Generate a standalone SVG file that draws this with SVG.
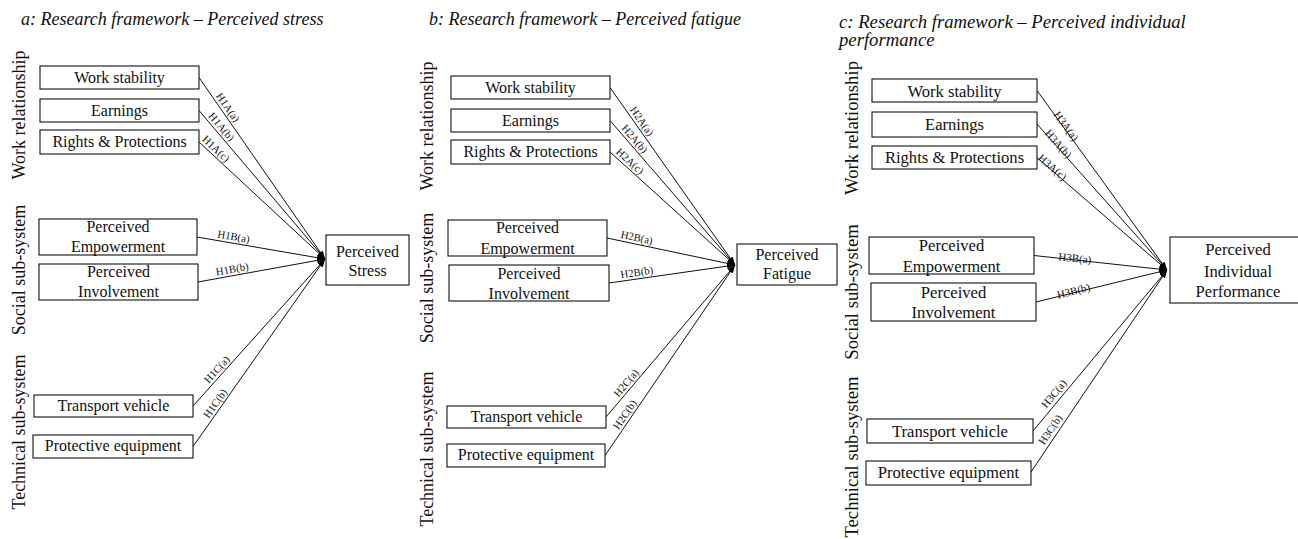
<svg xmlns="http://www.w3.org/2000/svg" width="1298" height="539" viewBox="0 0 1298 539">
<style>
text{font-family:"Liberation Serif","Times New Roman",serif;fill:#111}
.title{font-size:18px;font-style:italic}
.titlec{font-size:18.7px;font-style:italic}
.grp{font-size:18px;text-anchor:middle}
.grpc{font-size:18.7px;text-anchor:middle}
.box{fill:#fff;stroke:#111;stroke-width:1.1}
.nt{font-size:16px;text-anchor:middle}
.ntc{font-size:16.6px;text-anchor:middle}
.edge{fill:none;stroke:#111;stroke-width:1;marker-end:url(#arr)}
.el{font-size:10.8px}
.elc{font-size:11px}
</style>
<defs>
<marker id="arr" markerUnits="userSpaceOnUse" markerWidth="8" markerHeight="6" refX="8" refY="3" orient="auto">
<path d="M0,0 L8,3 L0,6 z" fill="#000"/>
</marker>
</defs>

<!-- Titles -->
<text class="title" x="21" y="25">a: Research framework – Perceived stress</text>
<text class="title" x="429" y="25">b: Research framework – Perceived fatigue</text>
<text class="titlec" x="839" y="28">c: Research framework – Perceived individual</text>
<text class="titlec" x="839" y="46">performance</text>

<!-- Group labels -->
<text class="grp" transform="translate(25,115) rotate(-90)">Work relationship</text>
<text class="grp" transform="translate(25,270) rotate(-90)">Social sub-system</text>
<text class="grp" transform="translate(25,432) rotate(-90)">Technical sub-system</text>
<text class="grp" transform="translate(433,126) rotate(-90)">Work relationship</text>
<text class="grp" transform="translate(433,278) rotate(-90)">Social sub-system</text>
<text class="grp" transform="translate(433,449) rotate(-90)">Technical sub-system</text>
<text class="grpc" transform="translate(858,128) rotate(-90)">Work relationship</text>
<text class="grpc" transform="translate(858,292) rotate(-90)">Social sub-system</text>
<text class="grpc" transform="translate(858,457) rotate(-90)">Technical sub-system</text>

<!-- Connectors -->
<g id="connectors">
<path id="ea1" class="edge" d="M199,77.5 L325,259"/>
<path id="ea2" class="edge" d="M199,110.5 L325,259"/>
<path id="ea3" class="edge" d="M199,142 L325,259"/>
<path id="ea4" class="edge" d="M197,237 L325,259"/>
<path id="ea5" class="edge" d="M198,282 L325,259"/>
<path id="ea6" class="edge" d="M193,406 L325,259"/>
<path id="ea7" class="edge" d="M193,446.5 L325,259"/>
<path id="eb1" class="edge" d="M610,87.5 L735,265"/>
<path id="eb2" class="edge" d="M610,120.5 L735,265"/>
<path id="eb3" class="edge" d="M610,152 L735,265"/>
<path id="eb4" class="edge" d="M607,238 L735,265"/>
<path id="eb5" class="edge" d="M609,283 L735,265"/>
<path id="eb6" class="edge" d="M606,417 L735,265"/>
<path id="eb7" class="edge" d="M605,455.5 L735,265"/>
<path id="ec1" class="edge" d="M1037,90.5 L1167,270"/>
<path id="ec2" class="edge" d="M1037,124 L1167,270"/>
<path id="ec3" class="edge" d="M1037,157.5 L1167,270"/>
<path id="ec4" class="edge" d="M1034,255.5 L1167,270"/>
<path id="ec5" class="edge" d="M1036,302 L1167,270"/>
<path id="ec6" class="edge" d="M1033,431 L1167,270"/>
<path id="ec7" class="edge" d="M1031,472 L1167,270"/>

<text class="el" dy="-3"><textPath href="#ea1" startOffset="41" text-anchor="middle">H1A(a)</textPath></text>
<text class="el" dy="-3"><textPath href="#ea2" startOffset="27" text-anchor="middle">H1A(b)</textPath></text>
<text class="el" dy="-3"><textPath href="#ea3" startOffset="17" text-anchor="middle">H1A(c)</textPath></text>
<text class="el" dy="-3"><textPath href="#ea4" startOffset="36" text-anchor="middle">H1B(a)</textPath></text>
<text class="el" dy="-3"><textPath href="#ea5" startOffset="36" text-anchor="middle">H1B(b)</textPath></text>
<text class="el" dy="-3"><textPath href="#ea6" startOffset="43" text-anchor="middle">H1C(a)</textPath></text>
<text class="el" dy="-3"><textPath href="#ea7" startOffset="48" text-anchor="middle">H1C(b)</textPath></text>

<text class="el" dy="-3"><textPath href="#eb1" startOffset="46" text-anchor="middle">H2A(a)</textPath></text>
<text class="el" dy="-3"><textPath href="#eb2" startOffset="30" text-anchor="middle">H2A(b)</textPath></text>
<text class="el" dy="-3"><textPath href="#eb3" startOffset="21" text-anchor="middle">H2A(c)</textPath></text>
<text class="el" dy="-3"><textPath href="#eb4" startOffset="29" text-anchor="middle">H2B(a)</textPath></text>
<text class="el" dy="-3"><textPath href="#eb5" startOffset="29" text-anchor="middle">H2B(b)</textPath></text>
<text class="el" dy="-3"><textPath href="#eb6" startOffset="39" text-anchor="middle">H2C(a)</textPath></text>
<text class="el" dy="-3"><textPath href="#eb7" startOffset="45" text-anchor="middle">H2C(b)</textPath></text>

<text class="elc" dy="1"><textPath href="#ec1" startOffset="46" text-anchor="middle">H3A(a)</textPath></text>
<text class="elc" dy="1"><textPath href="#ec2" startOffset="29" text-anchor="middle">H3A(b)</textPath></text>
<text class="elc" dy="1"><textPath href="#ec3" startOffset="18" text-anchor="middle">H3A(c)</textPath></text>
<text class="elc" dy="2"><textPath href="#ec4" startOffset="41" text-anchor="middle">H3B(a)</textPath></text>
<text class="elc" dy="2"><textPath href="#ec5" startOffset="39" text-anchor="middle">H3B(b)</textPath></text>
<text class="elc" dy="-4"><textPath href="#ec6" startOffset="42" text-anchor="middle">H3C(a)</textPath></text>
<text class="elc" dy="-4"><textPath href="#ec7" startOffset="46" text-anchor="middle">H3C(b)</textPath></text>
</g>

<!-- Panel a nodes -->
<g id="a-work-stability"><rect class="box" x="40" y="66" width="159" height="23"/><text class="nt" x="119.5" y="83">Work stability</text></g>
<g id="a-earnings"><rect class="box" x="40" y="99" width="159" height="23"/><text class="nt" x="119.5" y="116">Earnings</text></g>
<g id="a-rights"><rect class="box" x="40" y="130" width="159" height="24"/><text class="nt" x="119.5" y="147">Rights &amp; Protections</text></g>
<g id="a-empowerment"><rect class="box" x="39" y="219" width="158" height="36"/><text class="nt" x="118" y="231.7">Perceived</text><text class="nt" x="118" y="252">Empowerment</text></g>
<g id="a-involvement"><rect class="box" x="39" y="264" width="159" height="36"/><text class="nt" x="118.5" y="276.7">Perceived</text><text class="nt" x="118.5" y="297">Involvement</text></g>
<g id="a-transport"><rect class="box" x="34" y="395" width="159" height="22"/><text class="nt" x="113.5" y="411">Transport vehicle</text></g>
<g id="a-protective"><rect class="box" x="33" y="435" width="160" height="23"/><text class="nt" x="113" y="451">Protective equipment</text></g>
<g id="a-stress"><rect class="box" x="326" y="235" width="83" height="50"/><text class="nt" x="367.5" y="257">Perceived</text><text class="nt" x="367.5" y="276">Stress</text></g>

<!-- Panel b nodes -->
<g id="b-work-stability"><rect class="box" x="451" y="76" width="159" height="23"/><text class="nt" x="530.5" y="93">Work stability</text></g>
<g id="b-earnings"><rect class="box" x="451" y="109" width="159" height="23"/><text class="nt" x="530.5" y="125.5">Earnings</text></g>
<g id="b-rights"><rect class="box" x="451" y="140" width="159" height="24"/><text class="nt" x="530.5" y="157">Rights &amp; Protections</text></g>
<g id="b-empowerment"><rect class="box" x="448" y="220" width="159" height="36"/><text class="nt" x="527.5" y="233.3">Perceived</text><text class="nt" x="527.5" y="254">Empowerment</text></g>
<g id="b-involvement"><rect class="box" x="449" y="265" width="160" height="36"/><text class="nt" x="529" y="279">Perceived</text><text class="nt" x="529" y="299.3">Involvement</text></g>
<g id="b-transport"><rect class="box" x="447" y="406" width="159" height="22"/><text class="nt" x="526.5" y="421.7">Transport vehicle</text></g>
<g id="b-protective"><rect class="box" x="447" y="444" width="158" height="23"/><text class="nt" x="526" y="460">Protective equipment</text></g>
<g id="b-fatigue"><rect class="box" x="737" y="244" width="100" height="41"/><text class="nt" x="787" y="260">Perceived</text><text class="nt" x="787" y="279">Fatigue</text></g>

<!-- Panel c nodes -->
<g id="c-work-stability"><rect class="box" x="872" y="79" width="165" height="23"/><text class="ntc" x="954.5" y="96.7">Work stability</text></g>
<g id="c-earnings"><rect class="box" x="872" y="112" width="165" height="25"/><text class="ntc" x="954.5" y="130">Earnings</text></g>
<g id="c-rights"><rect class="box" x="872" y="146" width="165" height="23"/><text class="ntc" x="954.5" y="163.3">Rights &amp; Protections</text></g>
<g id="c-empowerment"><rect class="box" x="869" y="237" width="165" height="37"/><text class="ntc" x="951.5" y="250.7">Perceived</text><text class="ntc" x="951.5" y="271.7">Empowerment</text></g>
<g id="c-involvement"><rect class="box" x="871" y="283" width="165" height="38"/><text class="ntc" x="953.5" y="298.3">Perceived</text><text class="ntc" x="953.5" y="318.3">Involvement</text></g>
<g id="c-transport"><rect class="box" x="867" y="419" width="166" height="24"/><text class="ntc" x="950" y="436.7">Transport vehicle</text></g>
<g id="c-protective"><rect class="box" x="866" y="461" width="165" height="24"/><text class="ntc" x="948.5" y="478.3">Protective equipment</text></g>
<g id="c-performance"><rect class="box" x="1170" y="237" width="136" height="66"/><text class="ntc" x="1238" y="255">Perceived</text><text class="ntc" x="1238" y="277.3">Individual</text><text class="ntc" x="1238" y="296.7">Performance</text></g>
</svg>
